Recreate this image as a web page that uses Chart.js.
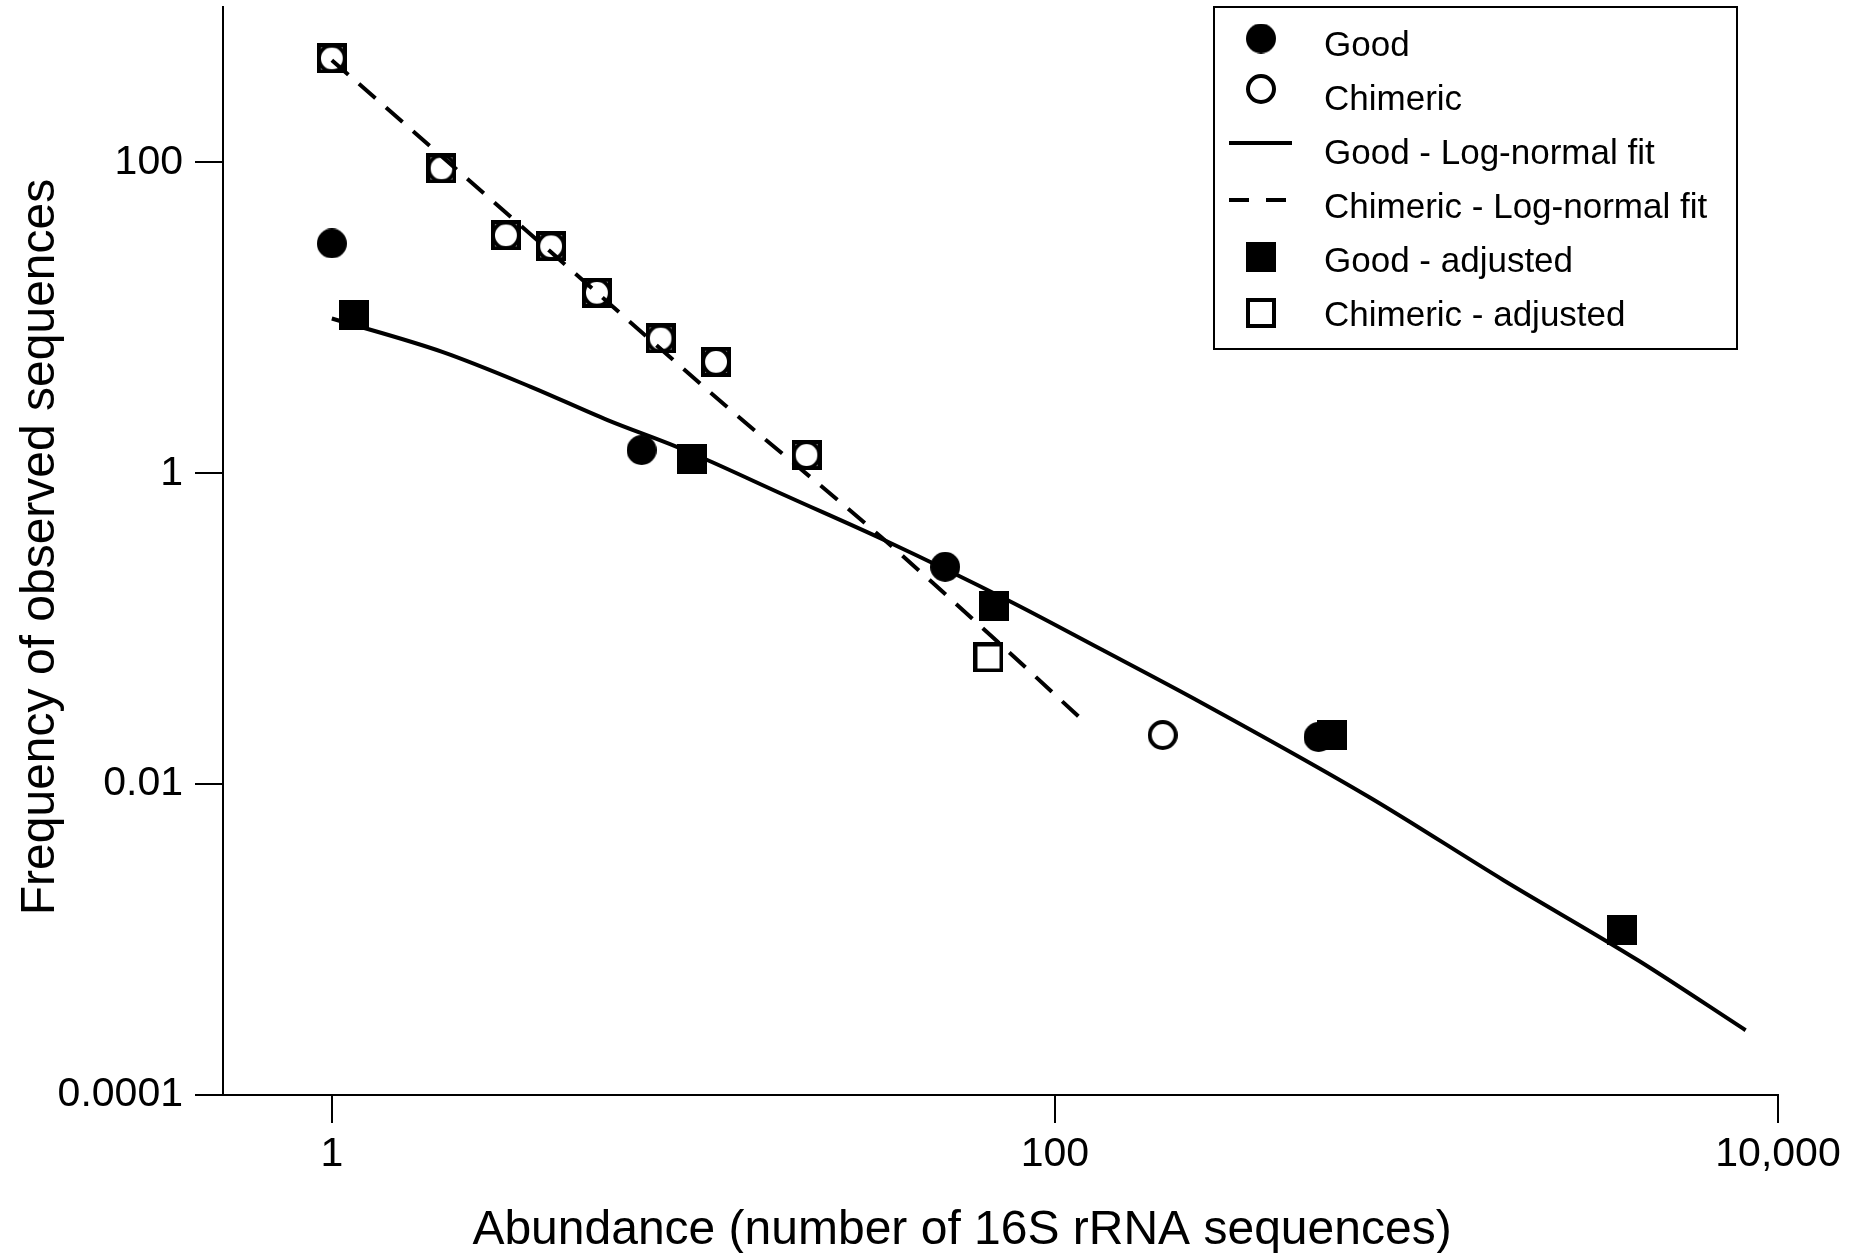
<!DOCTYPE html>
<html>
<head>
<meta charset="utf-8">
<script src="https://cdn.jsdelivr.net/npm/chart.js@4/dist/chart.umd.min.js"></script>
<style>
  html, body { margin: 0; padding: 0; background: #fff; }
  #wrap { width: 1872px; height: 1253px; position: relative; }
</style>
</head>
<body>
<div id="wrap"><canvas id="c" width="1872" height="1253"></canvas></div>
<script>
// ---------------- data ----------------
const goodX = [1.0, 7.19, 49.7, 536];
const goodY = [30.1, 1.41, 0.25, 0.0201];

const chimericX = [1.0, 2.01, 3.03, 4.04, 5.41, 8.12, 11.55, 20.56, 198.7];
const chimericY = [467, 91.5, 34.0, 28.9, 14.5, 7.37, 5.21, 1.31, 0.0207];

const goodAdjX = [1.15, 9.89, 67.9, 585, 3709];
const goodAdjY = [10.5, 1.23, 0.1397, 0.0207, 0.00116];

const chimericAdjX = [1.0, 2.01, 3.03, 4.04, 5.41, 8.12, 11.55, 20.56, 65.5];
const chimericAdjY = [467, 91.5, 34.0, 28.9, 14.5, 7.37, 5.21, 1.31, 0.0653];

const goodFitX = [1.0, 2.02, 3.55, 5.79, 9.0, 10.7, 17.9, 33.8, 74.1, 133, 252, 739, 1741, 4099, 8137];
const goodFitY = [9.9, 6.04, 3.60, 2.20, 1.48, 1.245, 0.722, 0.371, 0.1526, 0.0746, 0.0338, 0.00827, 0.00241, 0.000736, 0.000261];

const chimFitX = [1.0, 4.0, 12.24, 33.0, 68.7, 116.5];
const chimFitY = [455, 27.0, 2.74, 0.39, 0.0843, 0.0271];

const xTickValues = [1, 100, 10000];
const xTickLabels = ['1', '100', '10,000'];
const yTickValues = [0.0001, 0.01, 1, 100];
const yTickLabels = ['0.0001', '0.01', '1', '100'];

const seriesNames = ['Good', 'Chimeric', 'Good - Log-normal fit', 'Chimeric - Log-normal fit', 'Good - adjusted', 'Chimeric - adjusted'];
const xTitle = 'Abundance (number of 16S rRNA sequences)';
const yTitle = 'Frequency of observed sequences';

// ---------------- helpers ----------------
const FONT = '"Liberation Sans", Arial, Helvetica, sans-serif';
const toPts = (xs, ys) => xs.map((x, i) => ({ x: x, y: ys[i] }));

function makeMarker(kind) {
  const c = document.createElement('canvas');
  c.width = 30; c.height = 30;
  const g = c.getContext('2d');
  g.fillStyle = '#000'; g.strokeStyle = '#000';
  if (kind === 'filledCircle') {
    g.beginPath(); g.arc(15, 15, 15, 0, Math.PI * 2); g.fill();
  } else if (kind === 'openCircle') {
    g.lineWidth = 4; g.beginPath(); g.arc(15, 15, 13, 0, Math.PI * 2); g.stroke();
  } else if (kind === 'filledSquare') {
    g.fillRect(0, 0, 30, 30);
  } else {
    g.lineWidth = 4; g.strokeRect(2, 2, 26, 26);
  }
  return c;
}
const mFilledCircle = makeMarker('filledCircle');
const mOpenCircle = makeMarker('openCircle');
const mFilledSquare = makeMarker('filledSquare');
const mOpenSquare = makeMarker('openSquare');

const markerSet = (style) => ({
  showLine: false, pointStyle: style, pointRadius: 15, pointHoverRadius: 15,
  borderColor: '#000', backgroundColor: '#000'
});
const lineSet = (dash) => ({
  showLine: true, pointRadius: 0, pointHoverRadius: 0, borderWidth: 4,
  borderColor: '#000', backgroundColor: '#000', borderDash: dash,
  cubicInterpolationMode: 'monotone',
  borderCapStyle: 'butt', borderJoinStyle: 'round', fill: false
});

const datasets = [
  Object.assign({ label: seriesNames[0], data: toPts(goodX, goodY) }, markerSet(mFilledCircle)),
  Object.assign({ label: seriesNames[1], data: toPts(chimericX, chimericY) }, markerSet(mOpenCircle)),
  Object.assign({ label: seriesNames[2], data: toPts(goodFitX, goodFitY) }, lineSet([])),
  Object.assign({ label: seriesNames[3], data: toPts(chimFitX, chimFitY) }, lineSet([22, 14])),
  Object.assign({ label: seriesNames[4], data: toPts(goodAdjX, goodAdjY) }, markerSet(mFilledSquare)),
  Object.assign({ label: seriesNames[5], data: toPts(chimericAdjX, chimericAdjY) }, markerSet(mOpenSquare))
];

// ---------------- titles + boxed legend ----------------
const decor = {
  id: 'decor',
  afterDraw(chart) {
    const ctx = chart.ctx;
    ctx.save();
    ctx.fillStyle = '#000';
    ctx.strokeStyle = '#000';
    ctx.font = '48px ' + FONT;
    ctx.textAlign = 'center';
    ctx.textBaseline = 'alphabetic';
    ctx.fillText(xTitle, 962, 1244);
    ctx.save();
    ctx.translate(54, 547);
    ctx.rotate(-Math.PI / 2);
    ctx.fillText(yTitle, 0, 0);
    ctx.restore();

    ctx.lineWidth = 2;
    ctx.setLineDash([]);
    ctx.strokeRect(1214, 7, 523, 342);
    const textMid = [43, 97, 151, 205, 259, 313];
    const symMid = [38.5, 89, 143, 200, 257, 313];
    ctx.font = '35px ' + FONT;
    ctx.textAlign = 'left';
    chart.data.datasets.forEach((ds, i) => {
      const sy = symMid[i];
      if (ds.showLine) {
        ctx.save();
        ctx.lineWidth = 4;
        ctx.lineCap = 'butt';
        ctx.setLineDash(ds.borderDash && ds.borderDash.length ? [20, 17] : []);
        ctx.beginPath();
        ctx.moveTo(1229, sy);
        ctx.lineTo(1292, sy);
        ctx.stroke();
        ctx.restore();
      } else {
        const img = ds.pointStyle;
        ctx.drawImage(img, 1261 - img.width / 2, sy - img.height / 2);
      }
      ctx.fillText(ds.label, 1324, textMid[i] + 12.5);
    });
    ctx.restore();
  }
};

const tickFont = { family: FONT, size: 41 };
new Chart(document.getElementById('c'), {
  type: 'scatter',
  data: { datasets: datasets },
  options: {
    responsive: false,
    animation: false,
    devicePixelRatio: 1,
    events: [],
    layout: { autoPadding: false, padding: { top: 7, right: 94, left: 0, bottom: 0 } },
    plugins: { legend: { display: false }, tooltip: { enabled: false }, title: { display: false } },
    scales: {
      x: {
        type: 'logarithmic', position: 'bottom', min: 0.5, max: 10000,
        afterBuildTicks: (s) => { s.ticks = xTickValues.map(v => ({ value: v })); },
        afterFit: (s) => { s.height = 158; s.paddingLeft = 0; s.paddingRight = 0; },
        border: { display: true, color: '#000', width: 2 },
        grid: { display: true, drawOnChartArea: false, drawTicks: true, tickLength: 28, color: '#000', lineWidth: 2 },
        ticks: {
          color: '#000', font: tickFont, padding: 7, autoSkip: false, maxRotation: 0, minRotation: 0,
          callback: (v) => { const i = xTickValues.indexOf(v); return i >= 0 ? xTickLabels[i] : ''; }
        }
      },
      y: {
        type: 'logarithmic', position: 'left', min: 0.0001, max: 1000,
        afterBuildTicks: (s) => { s.ticks = yTickValues.map(v => ({ value: v })); },
        afterFit: (s) => { s.width = 223; s.paddingTop = 0; s.paddingBottom = 0; },
        border: { display: true, color: '#000', width: 2 },
        grid: { display: true, drawOnChartArea: false, drawTicks: true, tickLength: 28, color: '#000', lineWidth: 2 },
        ticks: {
          color: '#000', font: tickFont, padding: 12, autoSkip: false,
          callback: (v) => { const i = yTickValues.indexOf(v); return i >= 0 ? yTickLabels[i] : ''; }
        }
      }
    }
  },
  plugins: [decor]
});
</script>
</body>
</html>
